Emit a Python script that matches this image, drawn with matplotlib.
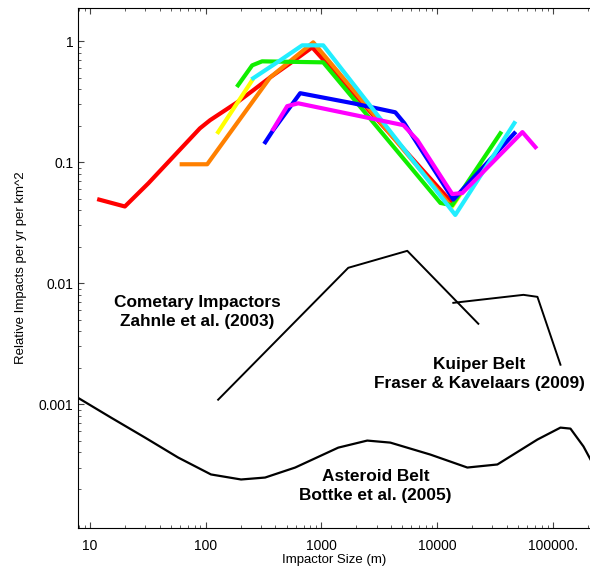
import numpy as np
import matplotlib
matplotlib.use("Agg")
import matplotlib.pyplot as plt
from matplotlib.ticker import FixedLocator, FixedFormatter

plt.rcParams['font.family'] = ['Liberation Sans', 'DejaVu Sans']

# coloured model curves (impactor size in m, relative impacts)
red_x = [12, 20, 32, 89, 109, 187, 257, 361, 537, 832, 13500]
red_y = [0.049, 0.043, 0.067, 0.19, 0.222, 0.312, 0.392, 0.502, 0.655, 0.887, 0.046]

yellow_x = [128, 252, np.nan, 13500, 23600]
yellow_y = [0.177, 0.474, np.nan, 0.043, 0.094]

orange_x = [62, 103, 361, 849, 12250, 13000]
orange_y = [0.096, 0.096, 0.502, 0.976, 0.047, 0.044]

green_x = [190, 252, 307, 1036, 10670, 13500, 35200]
green_y = [0.431, 0.63, 0.68, 0.667, 0.046, 0.044, 0.173]

blue_x = [327, 383, 655, 1884, 4347, 5200, 13800, 46500]
blue_y = [0.146, 0.184, 0.371, 0.306, 0.258, 0.21, 0.049, 0.173]

cyan_x = [257, 440, 682, 1036, 14350, 46500]
cyan_y = [0.493, 0.693, 0.922, 0.922, 0.0366, 0.21]

magenta_x = [383, 506, 630, 5110, 6750, 13500, 16500, 54600, 70700]
magenta_y = [0.187, 0.29, 0.306, 0.202, 0.152, 0.0545, 0.0555, 0.177, 0.133]

# black reference curves
comet_x = [128, 1706, 5520, 22700]
comet_y = [0.00109, 0.0134, 0.0185, 0.00462]

kuiper_x = [13800, 55700, 73600, 116400]
kuiper_y = [0.00688, 0.00801, 0.00771, 0.00212]

asteroid_x = [7.87, 15.2, 29.9, 57.7, 111, 202, 326, 593, 1397, 2488, 3936,
              8730, 18240, 33170, 73600, 116400, 142000, 184000, 211500]
asteroid_y = [0.00113, 0.000775, 0.00053, 0.000363, 0.000263, 0.000239,
              0.000248, 0.0003, 0.000438, 0.000501, 0.000482, 0.000384,
              0.0003, 0.000318, 0.000511, 0.000641, 0.000629, 0.000448, 0.00035]

xticks = [10, 100, 1000, 10000, 100000]
xtick_labels = ['10', '100', '1000', '10000', '100000.']
yticks = [0.001, 0.01, 0.1, 1]
ytick_labels = ['0.001', '0.01', '0.1', '1']

fig = plt.figure(figsize=(5.9, 5.7), dpi=100)
ax = fig.add_axes([0.1322, 0.0737, 0.868, 0.912])

lw = 3.0
ax.plot(red_x, red_y, color='#ff0000', lw=lw)
ax.plot(yellow_x, yellow_y, color='#ffff00', lw=lw)
ax.plot(orange_x, orange_y, color='#ff8000', lw=lw)
ax.plot(green_x, green_y, color='#11ee00', lw=lw)
ax.plot(blue_x, blue_y, color='#0000ff', lw=lw)
ax.plot(cyan_x, cyan_y, color='#22eeff', lw=lw)
ax.plot(magenta_x, magenta_y, color='#ff00ff', lw=lw)

ax.plot(comet_x, comet_y, color='black', lw=1.4)
ax.plot(kuiper_x, kuiper_y, color='black', lw=1.4)
ax.plot(asteroid_x, asteroid_y, color='black', lw=1.6)

ax.set_xscale('log')
ax.set_yscale('log')
ax.set_xlim(7.87, 2.1e5)
ax.set_ylim(9.5e-5, 1.87)
ax.spines['right'].set_visible(False)

ax.xaxis.set_major_locator(FixedLocator(xticks))
ax.xaxis.set_major_formatter(FixedFormatter(xtick_labels))
ax.yaxis.set_major_locator(FixedLocator(yticks))
ax.yaxis.set_major_formatter(FixedFormatter(ytick_labels))
ax.tick_params(which='both', direction='in', top=True, right=False,
               color='#444444', labelsize=10)
ax.tick_params(which='major', length=4, width=0.8)
ax.tick_params(which='minor', length=2.5, width=0.6)
ax.tick_params(axis='x', pad=8)

ax.set_xlabel('Impactor Size (m)', fontsize=9.5, labelpad=1)
ax.set_ylabel('Relative Impacts per yr per km^2', fontsize=9.5, labelpad=8)

bold = dict(fontsize=12.4, fontweight='bold', ha='center', va='center',
            linespacing=1.35)
ax.text(84, 0.0058, 'Cometary Impactors\nZahnle et al. (2003)', **bold)
ax.text(23000, 0.00178, 'Kuiper Belt\nFraser & Kavelaars (2009)', **bold)
ax.text(2920, 0.000212, 'Asteroid Belt\nBottke et al. (2005)', **bold)

fig.savefig('out.png', dpi=100)
